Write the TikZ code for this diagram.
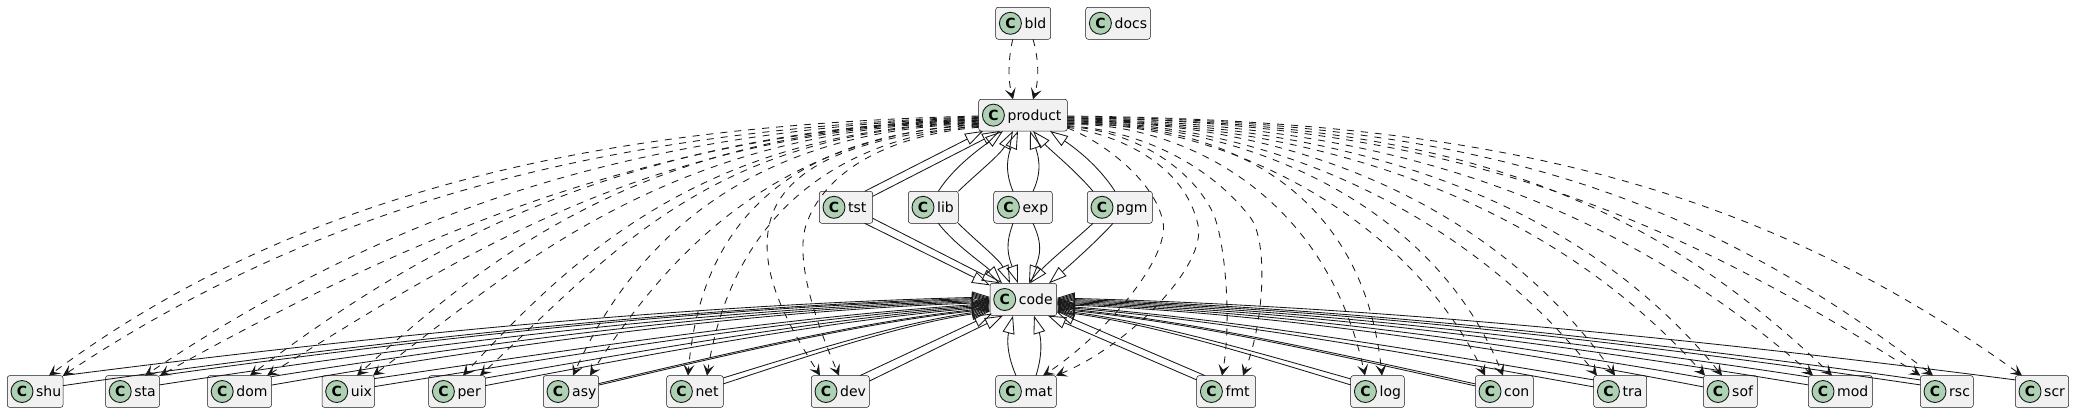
\documentclass[tikz,border=0pt]{standalone}
\usepackage{fontspec}
\setmainfont{DejaVu Sans}
\usetikzlibrary{calc,arrows.meta}
\definecolor{ink}{HTML}{181818}
\definecolor{boxfill}{HTML}{F1F1F1}
\definecolor{spot}{HTML}{ADD1B2}
\tikzset{
  cbox/.style={draw=ink,line width=.5pt,fill=boxfill,rounded corners=2.5pt,inner sep=0pt,outer sep=0pt},
  cspot/.style={circle,draw=ink,line width=.9pt,fill=spot,minimum size=22pt,inner sep=0pt,font=\fontsize{14}{16}\selectfont\bfseries},
  clabel/.style={anchor=base west,inner sep=0pt,font=\fontsize{14}{16}\selectfont,text=black},
  depline/.style={draw=ink,line width=.85pt,dash pattern=on 7pt off 7pt,-{Stealth[length=11pt,width=11pt,inset=5pt]}},
  inhline/.style={draw=ink,line width=.85pt,-{Triangle[open,length=18pt,width=12pt]}},
}
% name x0 x1 y0 y1 text
\newcommand\cls[6]{%
  \node[cbox,minimum width={(#3-#2)*1pt},minimum height={(#5-#4)*1pt}] (#1) at ({(#2+#3)/2},{(#4+#5)/2}) {};
  \node[cspot] (#1-c) at ({#2+14.7},{(#4+#5)/2}) {C};
  \node[clabel] (#1-t) at ({#2+28.7},{#4+21}) {#6};
}
% dependency from product: side, dy, middle path, target, dx
\newcommand\dep[5]{\draw[depline] ($(product.#1)+(0,#2)$) #3 ($(#4.north west)+(#5,0)$);}
% inheritance with computed bend: start anchor, offset, end anchor, offset
\newcommand\inh[4]{\draw[inhline] let \p1=($(#1)+(#2)$), \p2=($(#3)+(#4)$) in
  (\p1) .. controls ({\x1+.33*(\x2-\x1)},{\y1+.5*(\y2-\y1)}) and ({\x2-.33*(\x2-\x1)},{\y2+.1*(\y1-\y2)}) .. (\p2);}
% same with a milder bend
\newcommand\inm[4]{\draw[inhline] let \p1=($(#1)+(#2)$), \p2=($(#3)+(#4)$) in
  (\p1) .. controls ({\x1+.33*(\x2-\x1)},{\y1+.4*(\y2-\y1)}) and ({\x2-.33*(\x2-\x1)},{\y2+.18*(\y1-\y2)}) .. (\p2);}
% straight
\newcommand\ins[4]{\draw[inhline] ($(#1)+(#2)$) -- ($(#3)+(#4)$);}
% inheritance with explicit controls
\newcommand\inc[6]{\draw[inhline] ($(#1)+(#2)$) .. controls #5 and #6 .. ($(#3)+(#4)$);}
\begin{document}
\begin{tikzpicture}[x=1pt,y=-1pt]
\useasboundingbox (0,0) rectangle (2074,413);
\fill[white] (0,0) rectangle (2074,413);
\cls{bld}{995.7}{1050.7}{7.3}{39.3}{bld}
\cls{docs}{1085.7}{1150.3}{7.3}{39.3}{docs}
\cls{product}{978.7}{1067.3}{99.3}{131}{product}
\cls{tst}{819.3}{872.7}{191.3}{223.3}{tst}
\cls{lib}{908.3}{958.3}{191.3}{223.3}{lib}
\cls{exp}{993.7}{1052.3}{191.3}{223.3}{exp}
\cls{pgm}{1087.3}{1152.3}{191.3}{223.3}{pgm}
\cls{code}{990}{1056.7}{283.3}{315.7}{code}
\cls{shu}{7.3}{63}{375.6}{407.4}{shu}
\cls{sta}{105.5}{159.5}{375.6}{407.4}{sta}
\cls{dom}{207.5}{271.5}{375.6}{407.4}{dom}
\cls{uix}{322}{374.5}{375.6}{407.4}{uix}
\cls{per}{428.7}{485.3}{375.6}{407.4}{per}
\cls{asy}{543.3}{598.7}{375.6}{407.4}{asy}
\cls{net}{666.7}{723.3}{375.6}{407.4}{net}
\cls{dev}{811.3}{869.3}{375.6}{407.4}{dev}
\cls{mat}{995.7}{1056.3}{375.6}{407.4}{mat}
\cls{fmt}{1196.7}{1255.7}{375.6}{407.4}{fmt}
\cls{log}{1350.7}{1404.3}{375.6}{407.4}{log}
\cls{con}{1475.3}{1533.3}{375.6}{407.4}{con}
\cls{tra}{1593.7}{1646.7}{375.6}{407.4}{tra}
\cls{sof}{1703.3}{1757.3}{375.6}{407.4}{sof}
\cls{mod}{1808.3}{1872.3}{375.6}{407.4}{mod}
\cls{rsc}{1920.3}{1973.3}{375.6}{407.4}{rsc}
\cls{scr}{2015.3}{2068.7}{375.6}{407.4}{scr}
% bld -> product
\draw[depline] ($(bld.south west)+(17,0)$) .. controls (1008,60) and (1008,80) .. ($(product.north west)+(34.3,0)$);
\draw[depline] ($(bld.south west)+(37.3,0)$) .. controls (1039,60) and (1039,80) .. ($(product.north west)+(54.3,0)$);
% product -> left
\dep{west}{.85}{.. controls (600,125) and (300,190) ..}{shu}{41.7}
\dep{west}{1.6}{.. controls (600,130) and (320,205) ..}{shu}{55.7}
\dep{west}{2.35}{.. controls (640,130) and (400,205) ..}{sta}{39.5}
\dep{west}{3.1}{.. controls (660,132) and (430,225) ..}{sta}{54.5}
\dep{west}{3.85}{.. controls (630,130) and (430,240) ..}{dom}{42.5}
\dep{west}{4.6}{.. controls (650,132) and (470,250) ..}{dom}{59.5}
\dep{west}{5.35}{.. controls (650,125) and (490,255) ..}{uix}{35}
\dep{west}{6.1}{.. controls (670,128) and (520,265) ..}{uix}{51}
\dep{west}{6.85}{.. controls (700,130) and (570,260) ..}{per}{34.3}
\dep{west}{7.6}{.. controls (710,130) and (610,255) ..}{per}{51.3}
\dep{west}{8.35}{.. controls (740,130) and (630,250) ..}{asy}{29.7}
\dep{west}{9.1}{.. controls (780,135) and (670,250) ..}{asy}{46.7}
\dep{west}{9.85}{.. controls (780,135) and (700,230) ..}{net}{21.3}
\dep{west}{10.6}{.. controls (820,140) and (730,230) ..}{net}{40.3}
\dep{west}{11.35}{.. controls (860,135) and (790,165) .. (772,215) .. controls (755,265) and (785,320) ..}{dev}{8.7}
\dep{west}{12.1}{.. controls (890,135) and (825,170) .. (806,225) .. controls (795,260) and (815,320) ..}{dev}{27.7}
% product -> right
\dep{east}{.85}{.. controls (1480,120) and (1750,180) ..}{scr}{6.7}
\dep{east}{1.6}{.. controls (1450,120) and (1680,180) ..}{rsc}{12.7}
\dep{east}{2.35}{.. controls (1420,122) and (1640,195) ..}{rsc}{0}
\dep{east}{3.1}{.. controls (1400,120) and (1620,170) ..}{mod}{23.7}
\dep{east}{3.85}{.. controls (1350,122) and (1590,180) ..}{mod}{4.7}
\dep{east}{4.6}{.. controls (1300,122) and (1560,175) ..}{sof}{18.7}
\dep{east}{5.35}{.. controls (1280,122) and (1530,180) ..}{sof}{1.7}
\dep{east}{6.1}{.. controls (1300,120) and (1500,210) ..}{tra}{21.3}
\dep{east}{6.85}{.. controls (1270,120) and (1470,215) ..}{tra}{3.3}
\dep{east}{7.6}{.. controls (1230,120) and (1430,195) ..}{con}{27.7}
\dep{east}{8.35}{.. controls (1200,120) and (1400,200) ..}{con}{9.7}
\dep{east}{9.1}{.. controls (1180,120) and (1360,160) ..}{log}{31.3}
\dep{east}{9.85}{.. controls (1150,120) and (1320,170) ..}{log}{14.3}
\dep{east}{10.6}{.. controls (1140,130) and (1210,165) .. (1250,217) .. controls (1268,240) and (1265,320) ..}{fmt}{46.3}
\dep{east}{11.35}{.. controls (1130,130) and (1190,165) .. (1213,213) .. controls (1225,240) and (1232,320) ..}{fmt}{25.3}
\dep{east}{12.1}{.. controls (1120,135) and (1185,165) .. (1198,225) .. controls (1207,265) and (1130,345) ..}{mat}{60.3}
\dep{east}{12.85}{.. controls (1100,140) and (1155,180) .. (1163,222) .. controls (1170,258) and (1105,335) ..}{mat}{47.3}
% left nodes -> code
\inh{shu.north east}{0,0}{code.north west}{0,13.7}
\inh{shu.north east}{0,10}{code.north west}{0,14.8}
\inh{sta.north east}{0,0}{code.north west}{0,15.9}
\inh{sta.north east}{0,9.3}{code.north west}{0,17}
\inh{dom.north east}{0,1}{code.north west}{0,18.1}
\inh{dom.north east}{0,9.5}{code.north west}{0,19.2}
\inm{uix.north east}{0,3}{code.north west}{0,20.3}
\inm{uix.north east}{0,11}{code.north west}{0,21.4}
\inm{per.north east}{0,2.5}{code.north west}{0,22.5}
\inm{per.north east}{0,10}{code.north west}{0,23.6}
\inm{asy.north east}{0,8}{code.north west}{0,24.7}
\inm{asy.north east}{0,9.5}{code.north west}{0,25.8}
\inm{net.north east}{0,2.3}{code.north west}{0,26.9}
\inm{net.north east}{0,8.3}{code.north west}{0,28}
\ins{dev.north east}{-9.3,0}{code.south west}{2,-2}
\ins{dev.north east}{0,5.5}{code.south west}{13,0}
% right nodes -> code
\inh{scr.north west}{0,4.3}{code.north east}{0,14.7}
\inh{rsc.north west}{0,4.3}{code.north east}{0,15.8}
\inh{rsc.north west}{0,9.3}{code.north east}{0,16.9}
\inh{mod.north west}{0,1.3}{code.north east}{0,18}
\inh{mod.north west}{0,9.3}{code.north east}{0,19.1}
\inh{sof.north west}{0,2.3}{code.north east}{0,20.2}
\inh{sof.north west}{0,11.3}{code.north east}{0,21.3}
\inm{tra.north west}{0,4.3}{code.north east}{0,22.4}
\inm{tra.north west}{0,11.3}{code.north east}{0,23.5}
\inm{con.north west}{0,8.3}{code.north east}{0,24.6}
\inm{con.north west}{0,10.3}{code.north east}{0,25.7}
\inm{log.north west}{0,3.3}{code.north east}{0,26.8}
\inm{log.north west}{0,9.3}{code.north east}{0,27.9}
\ins{fmt.north west}{8.3,0}{code.north east}{0,28.7}
\ins{fmt.north west}{0,4.3}{code.south east}{-8.7,0}
% mat -> code
\inc{mat.north west}{20.3,0}{code.south west}{23,0}{(1005,350)}{(1008,335)}
\inc{mat.north west}{40.3,0}{code.south west}{44,0}{(1044,350)}{(1040,335)}
% middle row -> product and code
\ins{tst.north east}{0,5}{product.south west}{21.3,0}
\ins{tst.north east}{-8,0}{product.south west}{4.3,0}
\inc{lib.north west}{30,0}{product.south west}{24.3,0}{(955,165)}{(985,145)}
\inc{lib.north east}{0,0}{product.south west}{34.3,0}{(975,175)}{(1000,155)}
\inc{exp.north west}{19.3,0}{product.south west}{39.3,0}{(1004,170)}{(1008,155)}
\inc{exp.north west}{39.3,0}{product.south west}{51.3,0}{(1043,170)}{(1038,155)}
\inc{pgm.north west}{5.7,0}{product.south west}{54.3,0}{(1075,170)}{(1050,150)}
\inc{pgm.north west}{27.7,0}{product.south west}{71.3,0}{(1098,165)}{(1075,148)}
\ins{tst.south east}{0,-5}{code.north west}{10,0}
\ins{tst.south east}{-8,0}{code.north west}{0,2}
\inc{lib.south west}{30,0}{code.north west}{12,0}{(955,245)}{(985,265)}
\inc{lib.south east}{0,0}{code.north west}{20,0}{(975,240)}{(1000,260)}
\inc{exp.south west}{19.3,0}{code.north west}{28,0}{(1005,245)}{(1008,255)}
\inc{exp.south west}{39.3,0}{code.north west}{39,0}{(1043,245)}{(1040,255)}
\inc{pgm.south west}{5.7,0}{code.north west}{40,0}{(1075,240)}{(1048,262)}
\inc{pgm.south west}{25.7,0}{code.north west}{59,0}{(1098,240)}{(1070,265)}
\end{tikzpicture}
\end{document}
